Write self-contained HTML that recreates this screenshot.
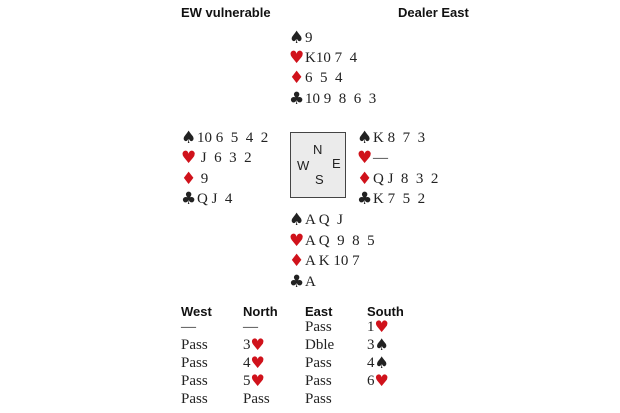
<!DOCTYPE html>
<html><head><style>
body{margin:0;width:620px;height:413px;background:#fff;position:relative;overflow:hidden;font-family:"Liberation Serif",serif;font-size:15px;color:#222}
.a{position:absolute;line-height:20px;white-space:pre}
.h{font-family:"Liberation Sans",sans-serif;font-weight:bold;font-size:13px;color:#111}
.r{color:#d0121b}
.s{display:inline-block;width:16px;font-family:"DejaVu Sans",sans-serif;font-size:17px;line-height:20px;vertical-align:top}
.t{font-family:"DejaVu Sans",sans-serif;font-size:16px;line-height:18px;vertical-align:top}
.box{position:absolute;left:290px;top:132px;width:54px;height:64px;border:1px solid #444;background:#ebebeb;font-family:"Liberation Sans",sans-serif;font-size:13px}
.box span{position:absolute}
.au{line-height:18px}
</style></head><body>
<div class="a h" style="left:181px;top:3px">EW vulnerable</div>
<div class="a h" style="left:398px;top:3px">Dealer East</div>

<div class="a" style="left:289px;top:28px"><span class="s">♠</span>9</div>
<div class="a" style="left:289px;top:48px"><span class="s r">♥</span>K10 7  4</div>
<div class="a" style="left:289px;top:68px"><span class="s r">♦</span>6  5  4</div>
<div class="a" style="left:289px;top:89px"><span class="s">♣</span>10 9  8  6  3</div>

<div class="a" style="left:181px;top:128px"><span class="s">♠</span>10 6  5  4  2</div>
<div class="a" style="left:181px;top:148px"><span class="s r">♥</span> J  6  3  2</div>
<div class="a" style="left:181px;top:169px"><span class="s r">♦</span> 9</div>
<div class="a" style="left:181px;top:189px"><span class="s">♣</span>Q J  4</div>

<div class="box"><span style="left:22px;top:9px">N</span><span style="left:6px;top:25px">W</span><span style="left:41px;top:23px">E</span><span style="left:24px;top:39px">S</span></div>

<div class="a" style="left:357px;top:128px"><span class="s">♠</span>K 8  7  3</div>
<div class="a" style="left:357px;top:148px"><span class="s r">♥</span>—</div>
<div class="a" style="left:357px;top:169px"><span class="s r">♦</span>Q J  8  3  2</div>
<div class="a" style="left:357px;top:189px"><span class="s">♣</span>K 7  5  2</div>

<div class="a" style="left:289px;top:210px"><span class="s">♠</span>A Q  J</div>
<div class="a" style="left:289px;top:231px"><span class="s r">♥</span>A Q  9  8  5</div>
<div class="a" style="left:289px;top:251px"><span class="s r">♦</span>A K 10 7</div>
<div class="a" style="left:289px;top:272px"><span class="s">♣</span>A</div>

<div class="a h" style="left:181px;top:302px">West</div>
<div class="a h" style="left:243px;top:302px">North</div>
<div class="a h" style="left:305px;top:302px">East</div>
<div class="a h" style="left:367px;top:302px">South</div>

<div class="a au" style="left:181px;top:318px">—<br>Pass<br>Pass<br>Pass<br>Pass</div>
<div class="a au" style="left:243px;top:318px">—<br>3<span class="t r">♥</span><br>4<span class="t r">♥</span><br>5<span class="t r">♥</span><br>Pass</div>
<div class="a au" style="left:305px;top:318px">Pass<br>Dble<br>Pass<br>Pass<br>Pass</div>
<div class="a au" style="left:367px;top:318px">1<span class="t r">♥</span><br>3<span class="t">♠</span><br>4<span class="t">♠</span><br>6<span class="t r">♥</span></div>
</body></html>
